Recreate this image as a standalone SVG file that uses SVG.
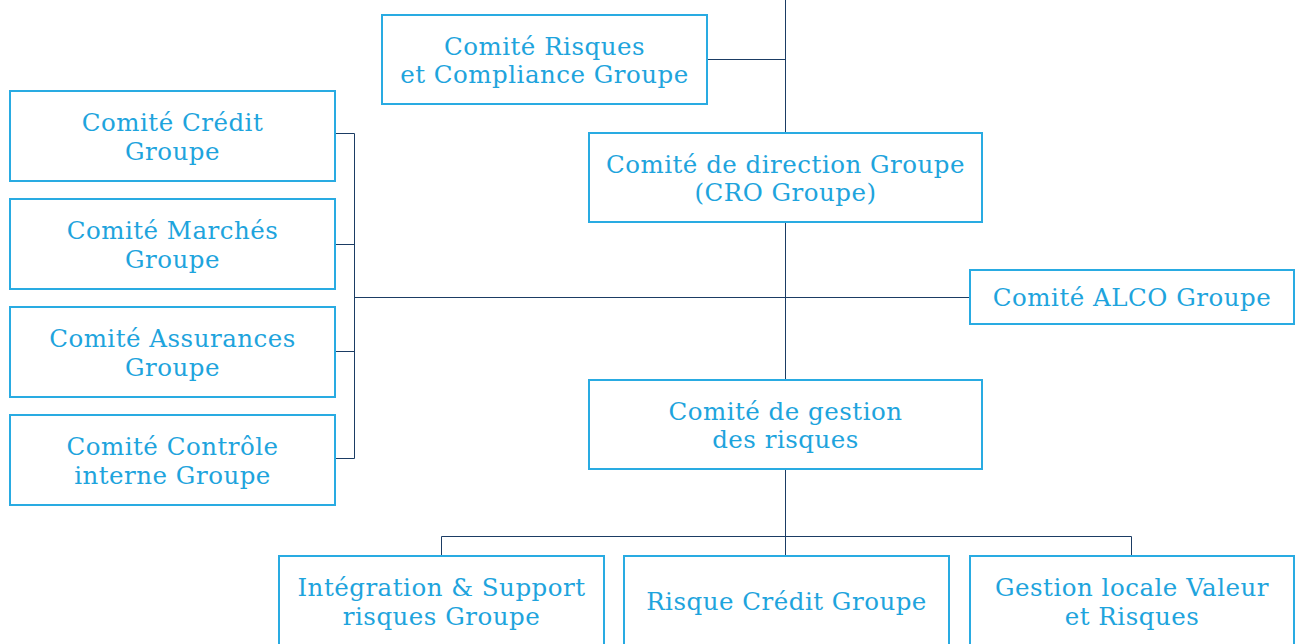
<svg xmlns="http://www.w3.org/2000/svg" width="1295" height="644" viewBox="0 0 1295 644">
<style>
.box{fill:#ffffff;stroke:#29abe2;stroke-width:2}
.t{font-family:"DejaVu Serif","Liberation Serif",serif;font-size:24.5px;letter-spacing:0.5px;fill:#1ea4dd;text-anchor:middle}
.c{fill:none;stroke:#1b3c64;stroke-width:1}
</style>
<rect width="1295" height="644" fill="#ffffff"/>
<g id="connectors">
<path class="c" d="M785.5,0 V133 M707,59.5 H785.5 M785.5,222 V380 M354.5,297.5 H970 M335,133.5 H354.5 V458.5 H335 M335,244.5 H354.5 M335,351.5 H354.5 M785.5,469 V556 M441.5,556 V536.5 H1131.5 V556"/>
</g>
<g id="n-risques"><rect class="box" x="382" y="15" width="325" height="89"/><text class="t" x="544.5" y="54.5">Comité Risques</text><text class="t" x="544.5" y="83">et Compliance Groupe</text></g>
<g id="n-credit"><rect class="box" x="10" y="91" width="325" height="90"/><text class="t" x="172.5" y="131">Comité Crédit</text><text class="t" x="172.5" y="159.5">Groupe</text></g>
<g id="n-marches"><rect class="box" x="10" y="199" width="325" height="90"/><text class="t" x="172.5" y="239">Comité Marchés</text><text class="t" x="172.5" y="267.5">Groupe</text></g>
<g id="n-assurances"><rect class="box" x="10" y="307" width="325" height="90"/><text class="t" x="172.5" y="347">Comité Assurances</text><text class="t" x="172.5" y="375.5">Groupe</text></g>
<g id="n-controle"><rect class="box" x="10" y="415" width="325" height="90"/><text class="t" x="172.5" y="455">Comité Contrôle</text><text class="t" x="172.5" y="483.5">interne Groupe</text></g>
<g id="n-direction"><rect class="box" x="589" y="133" width="393" height="89"/><text class="t" x="785.5" y="172.5">Comité de direction Groupe</text><text class="t" x="785.5" y="201">(CRO Groupe)</text></g>
<g id="n-alco"><rect class="box" x="970" y="270" width="324" height="54"/><text class="t" x="1132" y="306">Comité ALCO Groupe</text></g>
<g id="n-gestion"><rect class="box" x="589" y="380" width="393" height="89"/><text class="t" x="785.5" y="419.5">Comité de gestion</text><text class="t" x="785.5" y="448">des risques</text></g>
<g id="n-integration"><rect class="box" x="279" y="556" width="325" height="92"/><text class="t" x="441.5" y="596">Intégration &amp; Support</text><text class="t" x="441.5" y="624.5">risques Groupe</text></g>
<g id="n-risque-credit"><rect class="box" x="624" y="556" width="325" height="92"/><text class="t" x="786.5" y="610">Risque Crédit Groupe</text></g>
<g id="n-gestion-locale"><rect class="box" x="970" y="556" width="324" height="92"/><text class="t" x="1132" y="596">Gestion locale Valeur</text><text class="t" x="1132" y="624.5">et Risques</text></g>
</svg>
